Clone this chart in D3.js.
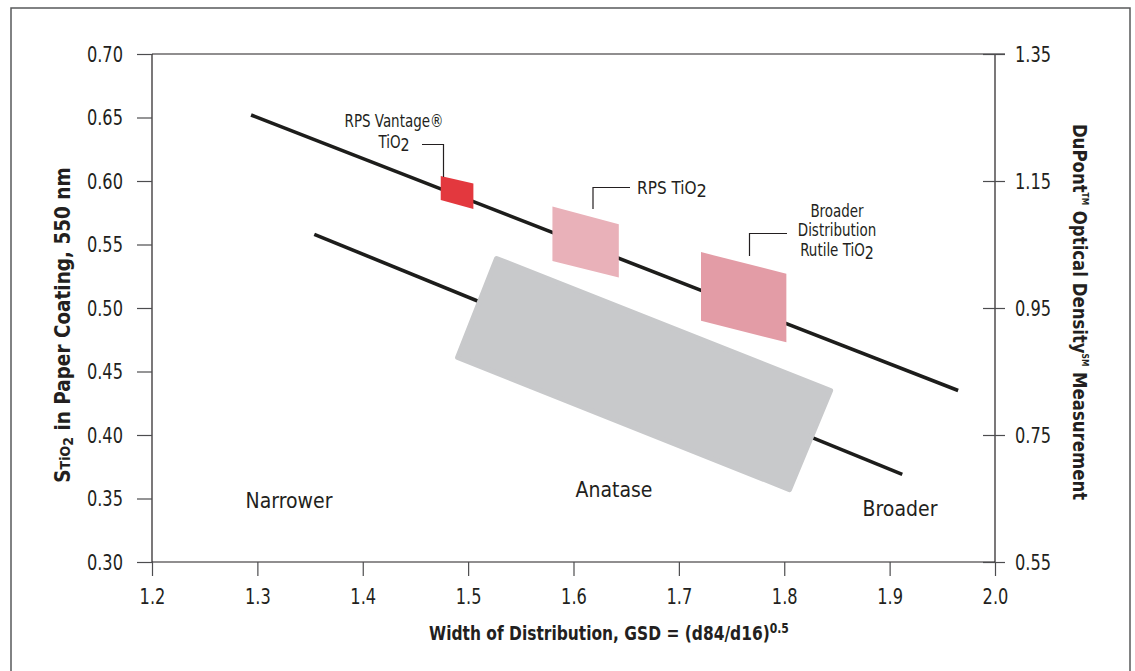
<!DOCTYPE html>
<html>
<head>
<meta charset="utf-8">
<script src="https://cdn.jsdelivr.net/npm/d3@7"></script>
<style>
  body { margin: 0; background: #fff; }
  svg { font-family: "DejaVu Sans Condensed", "Liberation Sans Narrow", "Roboto", sans-serif; }
  .tick text { fill: #231f20; }
</style>
</head>
<body>
<div id="chart"></div>
<script>
// axis ticks
var xTicks = [1.2, 1.3, 1.4, 1.5, 1.6, 1.7, 1.8, 1.9, 2.0];
var yLeftTicks = [0.30, 0.35, 0.40, 0.45, 0.50, 0.55, 0.60, 0.65, 0.70];
var yRightTicks = [0.55, 0.75, 0.95, 1.15, 1.35];

// trend lines: [gsd, s] end points
var rutileLine = [[1.294, 0.652], [1.965, 0.435]];
var anataseLine = [[1.354, 0.558], [1.912, 0.369]];

// product regions (corners in gsd / s)
var vantageBox = [[1.474, 0.604], [1.505, 0.598], [1.505, 0.578], [1.474, 0.585]];
var rpsBox = [[1.580, 0.580], [1.643, 0.566], [1.643, 0.524], [1.580, 0.537]];
var broadBox = [[1.721, 0.544], [1.802, 0.527], [1.802, 0.473], [1.721, 0.490]];
var anataseBox = [[1.527, 0.539], [1.844, 0.435], [1.805, 0.357], [1.490, 0.461]];

var width = 1135, height = 671;
var svg = d3.select("#chart").append("svg").attr("width", width).attr("height", height);

var x = d3.scaleLinear().domain([1.2, 2.0]).range([152, 995]);
var yL = d3.scaleLinear().domain([0.30, 0.70]).range([562, 54]);
var yR = d3.scaleLinear().domain([0.55, 1.35]).range([562, 54]);

// outer frame
svg.append("path").attr("d", "M11,680 L11,8 L1130,8 L1130,680")
    .attr("fill", "none").attr("stroke", "#58595b").attr("stroke-width", 1.5);

// top edge of plot
svg.append("line").attr("x1", x(1.2)).attr("x2", x(2.0) + 10)
    .attr("y1", yL(0.70)).attr("y2", yL(0.70)).attr("stroke", "#231f20").attr("stroke-width", 1.2);

var line = d3.line().x(function(d) { return x(d[0]); }).y(function(d) { return yL(d[1]); });

svg.selectAll("path.trend").data([rutileLine, anataseLine]).enter().append("path")
    .attr("class", "trend").attr("d", line)
    .attr("fill", "none").attr("stroke", "#1d1d1b").attr("stroke-width", 3.6);

var boxes = [
    {pts: vantageBox, color: "#e3383e", round: 0},
    {pts: rpsBox, color: "#e9b1b9", round: 0},
    {pts: broadBox, color: "#e39ca6", round: 0},
    {pts: anataseBox, color: "#c8c9cb", round: 5}
];
svg.selectAll("path.box").data(boxes).enter().append("path")
    .attr("class", "box")
    .attr("d", function(b) { return line(b.pts) + "Z"; })
    .attr("fill", function(b) { return b.color; })
    .attr("stroke", function(b) { return b.round ? b.color : "none"; })
    .attr("stroke-width", function(b) { return b.round; })
    .attr("stroke-linejoin", "round");

// axes
var fmt2 = d3.format(".2f");
var sq = 0.82; // squeeze tick digits to look condensed
var gL = svg.append("g").attr("transform", "translate(" + x(1.2) + ",0)")
    .call(d3.axisLeft(yL).tickValues(yLeftTicks).tickFormat(fmt2).tickSize(15).tickPadding(14));
var gB = svg.append("g").attr("transform", "translate(0," + yL(0.30) + ")")
    .call(d3.axisBottom(x).tickValues(xTicks).tickFormat(d3.format(".1f")).tickSize(14).tickPadding(12));
var gR = svg.append("g").attr("transform", "translate(" + x(2.0) + ",0)")
    .call(d3.axisRight(yR).tickValues(yRightTicks).tickFormat(fmt2).tickSize(10).tickPadding(10));
gR.selectAll(".tick line").attr("x1", -12);

[gL, gB, gR].forEach(function(g) {
    g.attr("font-family", null);
    g.selectAll(".domain").attr("stroke", "#231f20").attr("stroke-width", 1.2);
    g.selectAll(".tick line").attr("stroke", "#4d4d4f").attr("stroke-width", 1.2);
    g.selectAll(".tick text").attr("font-size", 22)
        .attr("x", function() { return (+d3.select(this).attr("x") || 0) / sq; })
        .attr("transform", "scale(" + sq + ",1)");
});
gL.select(".domain").attr("d", "M0," + yL(0.70) + "V" + yL(0.30));
gR.select(".domain").attr("d", "M0," + yR(1.35) + "V" + yR(0.55));
gB.select(".domain").attr("d", "M" + x(1.2) + ",0H" + x(2.0));

// axis titles
var tb = svg.append("text").attr("transform", "translate(609,640) scale(0.86,1)").attr("text-anchor", "middle")
    .attr("font-size", 20).attr("font-weight", "bold").attr("fill", "#231f20");
tb.append("tspan").text("Width of Distribution, GSD = (d84/d16)");
tb.append("tspan").attr("font-size", 14).attr("dy", -7).text("0.5");

var tl = svg.append("text").attr("transform", "translate(70,325) rotate(-90)")
    .attr("text-anchor", "middle").attr("font-size", 20.5).attr("font-weight", "bold").attr("fill", "#231f20");
tl.append("tspan").text("S");
tl.append("tspan").attr("font-size", 14).text("TiO");
tl.append("tspan").attr("font-size", 14).attr("dy", 3).text("2");
tl.append("tspan").attr("dy", -3).text(" in Paper Coating, 550 nm");

var tr = svg.append("text").attr("transform", "translate(1073,312) rotate(90) scale(0.92,1)")
    .attr("text-anchor", "middle").attr("font-size", 20).attr("font-weight", "bold").attr("fill", "#231f20");
tr.append("tspan").text("DuPont");
tr.append("tspan").attr("font-size", 9).attr("dy", -9).text("TM");
tr.append("tspan").attr("dy", 9).text(" Optical Density");
tr.append("tspan").attr("font-size", 9).attr("dy", -9).text("SM");
tr.append("tspan").attr("dy", 9).text(" Measurement");

// leader lines
var leaders = [
    [[422, 144.5], [443.5, 144.5], [443.5, 177]],
    [[630, 187.5], [593, 187.5], [593, 209]],
    [[787, 233.5], [749.5, 233.5], [749.5, 256]]
];
svg.selectAll("path.leader").data(leaders).enter().append("path").attr("class", "leader")
    .attr("d", function(d) { return d3.line()(d); })
    .attr("fill", "none").attr("stroke", "#231f20").attr("stroke-width", 1.2);

function label(lines, cx, y0, fs, dy, sx) {
    var t = svg.append("text").attr("transform", "translate(" + cx + "," + y0 + ") scale(" + sx + ",1)")
        .attr("text-anchor", "middle").attr("font-size", fs).attr("fill", "#231f20");
    lines.forEach(function(l, i) {
        var row = t.append("tspan").attr("x", 0).attr("y", i * dy);
        if (l.sub) {
            row.append("tspan").text(l.text);
            row.append("tspan").attr("dy", 3).attr("font-size", fs + 1).text(l.sub);
        } else {
            row.text(l.text);
        }
    });
}
label([{text: "RPS Vantage®"}, {text: "TiO", sub: "2"}], 394, 127, 17, 21, 0.88);
label([{text: "RPS TiO", sub: "2"}], 672, 194, 17, 20, 1);
label([{text: "Broader"}, {text: "Distribution"}, {text: "Rutile TiO", sub: "2"}], 837, 217, 17, 19.5, 0.88);

label([{text: "Narrower"}], 289, 508, 21, 0, 1);
label([{text: "Anatase"}], 614, 497, 21, 0, 1);
label([{text: "Broader"}], 900, 516, 21, 0, 1);
</script>
</body>
</html>
